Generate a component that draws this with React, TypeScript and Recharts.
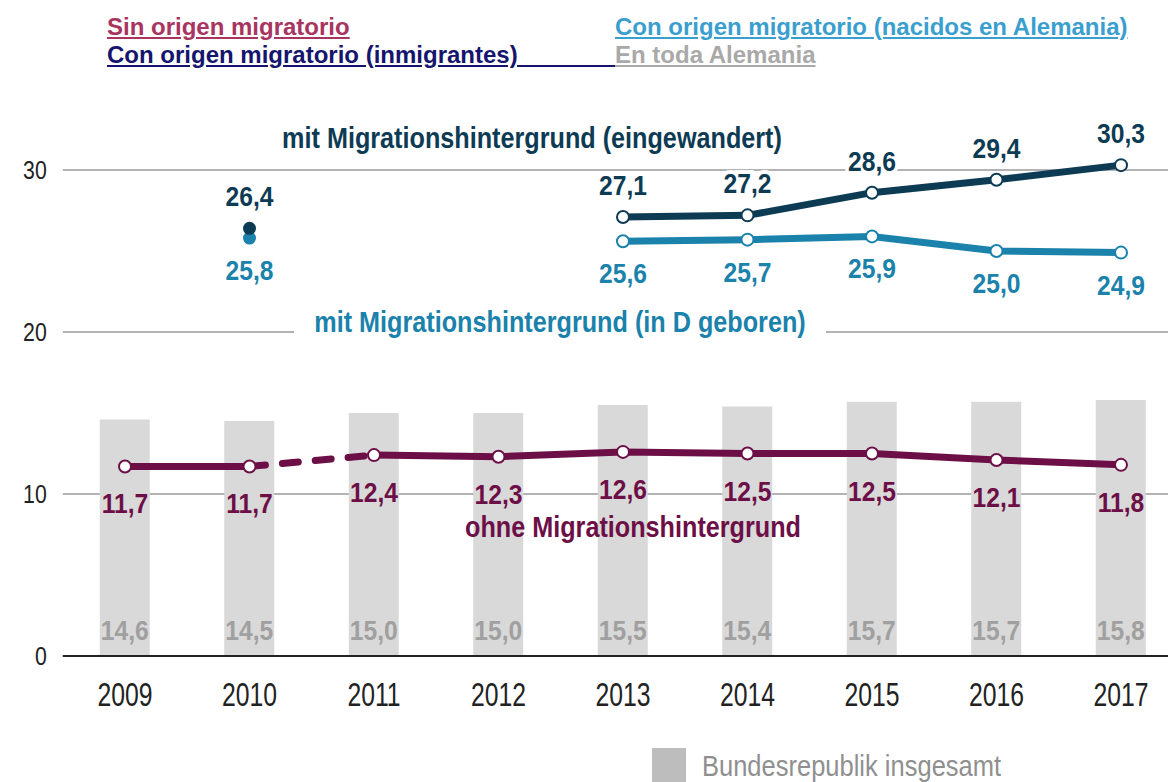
import {
  Bar,
  CartesianGrid,
  ComposedChart,
  LabelList,
  Line,
  XAxis,
  YAxis,
} from "recharts";

const years = ["2009", "2010", "2011", "2012", "2013", "2014", "2015", "2016", "2017"];
const gesamt = [14.6, 14.5, 15.0, 15.0, 15.5, 15.4, 15.7, 15.7, 15.8];
const ohne = [11.7, 11.7, 12.4, 12.3, 12.6, 12.5, 12.5, 12.1, 11.8];
const eingewandert = [null, 26.4, null, null, 27.1, 27.2, 28.6, 29.4, 30.3];
const geboren = [null, 25.8, null, null, 25.6, 25.7, 25.9, 25.0, 24.9];
const yTicks = [0, 10, 20, 30];
const gridValues = [10, 20, 30];
const yMax = 34;
// the 2010 -> 2011 step of "ohne" is drawn dashed
const dashStart = 1;

// no condensed font installed: Liberation Sans squeezed horizontally
const SANS = "'Liberation Sans', Arial, sans-serif";
const C_BAR = "#d9d9d9";
const C_OHNE = "#6d0f47";
const C_EIN = "#0d3b54";
const C_GEB = "#1a82ab";

const data = years.map((year, i) => ({
  year,
  gesamt: gesamt[i],
  ohneA: i <= dashStart ? ohne[i] : null,
  ohneB: i > dashStart ? ohne[i] : null,
  ohneDash: i === dashStart || i === dashStart + 1 ? ohne[i] : null,
  eingewandert: eingewandert[i],
  geboren: geboren[i],
}));

const fmt = (v: number) => v.toFixed(1).replace(".", ",");

function NText(p: {
  x: number;
  y: number;
  size: number;
  color: string;
  sx: number;
  bold?: boolean;
  anchor?: "start" | "middle" | "end";
  halo?: boolean;
  children: any;
}) {
  return (
    <text
      transform={`translate(${p.x},${p.y}) scale(${p.sx},1)`}
      textAnchor={p.anchor || "middle"}
      fill={p.color}
      fontSize={p.size}
      fontWeight={p.bold ? "bold" : "normal"}
      fontFamily={SANS}
      stroke={p.halo ? "#fff" : "none"}
      strokeWidth={p.halo ? 8 : 0}
      paintOrder="stroke"
    >
      {p.children}
    </text>
  );
}

function ringDot(color: string, values: (number | null)[]) {
  return (props: any) => {
    const { cx, cy, index } = props;
    if (cx == null || cy == null || values[index] == null) return <g key={`d-${index}`} />;
    const alone = values[index - 1] == null && values[index + 1] == null;
    if (alone) return <circle key={`d-${index}`} cx={cx} cy={cy} r={6.5} fill={color} />;
    return (
      <circle key={`d-${index}`} cx={cx} cy={cy} r={6} fill="#fff" stroke={color} strokeWidth={2} />
    );
  };
}

function pointLabel(color: string, offset: number, halo: boolean) {
  return (props: any) => {
    const { x, y, value } = props;
    if (value == null || y == null) return null;
    return (
      <NText x={x} y={y + offset} size={28} sx={0.88} color={color} bold halo={halo}>
        {fmt(value)}
      </NText>
    );
  };
}

function barLabel(props: any) {
  const { x, y, width, height, value } = props;
  return (
    <NText x={x + width / 2} y={y + height - 16} size={28} sx={0.88} color="#a0a0a0" bold>
      {fmt(value)}
    </NText>
  );
}

const note = (color: string, center: number, top: number, text: string, bg = false) => (
  <div
    style={{
      position: "absolute",
      left: center,
      top,
      color,
      fontFamily: SANS,
      fontWeight: "bold",
      fontSize: 30,
      lineHeight: "34px",
      whiteSpace: "nowrap",
      background: bg ? "#fff" : "transparent",
      padding: bg ? "0 24px" : 0,
      transform: "translateX(-50%) scaleX(0.84)",
    }}
  >
    {text}
  </div>
);

const legendText = (color: string, left: number, top: number, text: string) => (
  <div
    style={{
      position: "absolute",
      left,
      top,
      color,
      fontFamily: SANS,
      fontWeight: "bold",
      fontSize: 24,
      lineHeight: "28px",
      whiteSpace: "nowrap",
      textDecoration: "underline",
    }}
  >
    {text}
  </div>
);

const gridRows = ({ offset }: any) =>
  offset ? gridValues.map((v) => offset.top + offset.height * (1 - v / yMax)) : [];

export default function App() {
  return (
    <div style={{ position: "relative", width: 1168, height: 774, overflow: "hidden", background: "#fff" }}>
      <div style={{ position: "absolute", left: 0, top: 0 }}>
        <ComposedChart
          width={1185.25}
          height={774}
          data={data}
          margin={{ top: 97.2, right: 10, left: 0, bottom: 0 }}
          barSize={50}
        >
          <CartesianGrid
            vertical={false}
            stroke="#9a9a9a"
            strokeWidth={1.5}
            horizontalCoordinatesGenerator={gridRows}
          />
          <XAxis
            dataKey="year"
            interval={0}
            height={126}
            tickLine={false}
            tickSize={0}
            axisLine={{ stroke: "#222", strokeWidth: 2 }}
            tick={(p: any) => (
              <NText x={p.x} y={p.y + 48} size={33} sx={0.75} color="#222">
                {p.payload.value}
              </NText>
            )}
          />
          <YAxis
            width={54.75}
            domain={[0, yMax]}
            ticks={yTicks}
            axisLine={false}
            tickLine={false}
            tickSize={0}
            tickMargin={16}
            tick={(p: any) => (
              <NText x={p.x} y={p.y + 9} size={25} sx={0.85} color="#222" anchor="end">
                {p.payload.value}
              </NText>
            )}
          />
          <Bar dataKey="gesamt" fill={C_BAR} isAnimationActive={false}>
            <LabelList dataKey="gesamt" content={barLabel} />
          </Bar>
          <Line
            dataKey="ohneDash"
            stroke={C_OHNE}
            strokeWidth={7}
            strokeDasharray="16 17"
            strokeLinecap="round"
            dot={false}
            activeDot={false}
            isAnimationActive={false}
          />
          <Line
            dataKey="ohneA"
            stroke={C_OHNE}
            strokeWidth={7}
            dot={ringDot(C_OHNE, ohne)}
            activeDot={false}
            isAnimationActive={false}
          >
            <LabelList dataKey="ohneA" content={pointLabel(C_OHNE, 47, false)} />
          </Line>
          <Line
            dataKey="ohneB"
            stroke={C_OHNE}
            strokeWidth={7}
            dot={ringDot(C_OHNE, ohne)}
            activeDot={false}
            isAnimationActive={false}
          >
            <LabelList dataKey="ohneB" content={pointLabel(C_OHNE, 47, false)} />
          </Line>
          <Line
            dataKey="geboren"
            stroke={C_GEB}
            strokeWidth={7}
            dot={ringDot(C_GEB, geboren)}
            activeDot={false}
            isAnimationActive={false}
          >
            <LabelList dataKey="geboren" content={pointLabel(C_GEB, 42, false)} />
          </Line>
          <Line
            dataKey="eingewandert"
            stroke={C_EIN}
            strokeWidth={7}
            dot={ringDot(C_EIN, eingewandert)}
            activeDot={false}
            isAnimationActive={false}
          >
            <LabelList dataKey="eingewandert" content={pointLabel(C_EIN, -22, true)} />
          </Line>
        </ComposedChart>
      </div>

      {note(C_EIN, 524, 113, "mit Migrationshintergrund (eingewandert)")}
      {note(C_GEB, 552, 297, "mit Migrationshintergrund (in D geboren)", true)}
      {note(C_OHNE, 625, 502, "ohne Migrationshintergrund")}

      {legendText("#a8345f", 99, 5, "Sin origen migratorio")}
      {legendText("#15156e", 99, 33, "Con origen migratorio (inmigrantes)\u00a0\u00a0\u00a0\u00a0\u00a0\u00a0\u00a0\u00a0\u00a0\u00a0\u00a0\u00a0\u00a0\u00a0\u00a0")}
      {legendText("#3a9fcf", 607, 5, "Con origen migratorio (nacidos en Alemania)")}
      {legendText("#a9a9a9", 607, 33, "En toda Alemania")}

      <div style={{ position: "absolute", left: 644, top: 740, width: 34, height: 40, background: "#bdbdbd" }} />
      <div
        style={{
          position: "absolute",
          left: 694,
          top: 741,
          color: "#8f8f8f",
          fontFamily: SANS,
          fontSize: 30,
          lineHeight: "34px",
          whiteSpace: "nowrap",
          transform: "scaleX(0.85)",
          transformOrigin: "left center",
        }}
      >
        Bundesrepublik insgesamt
      </div>
    </div>
  );
}
